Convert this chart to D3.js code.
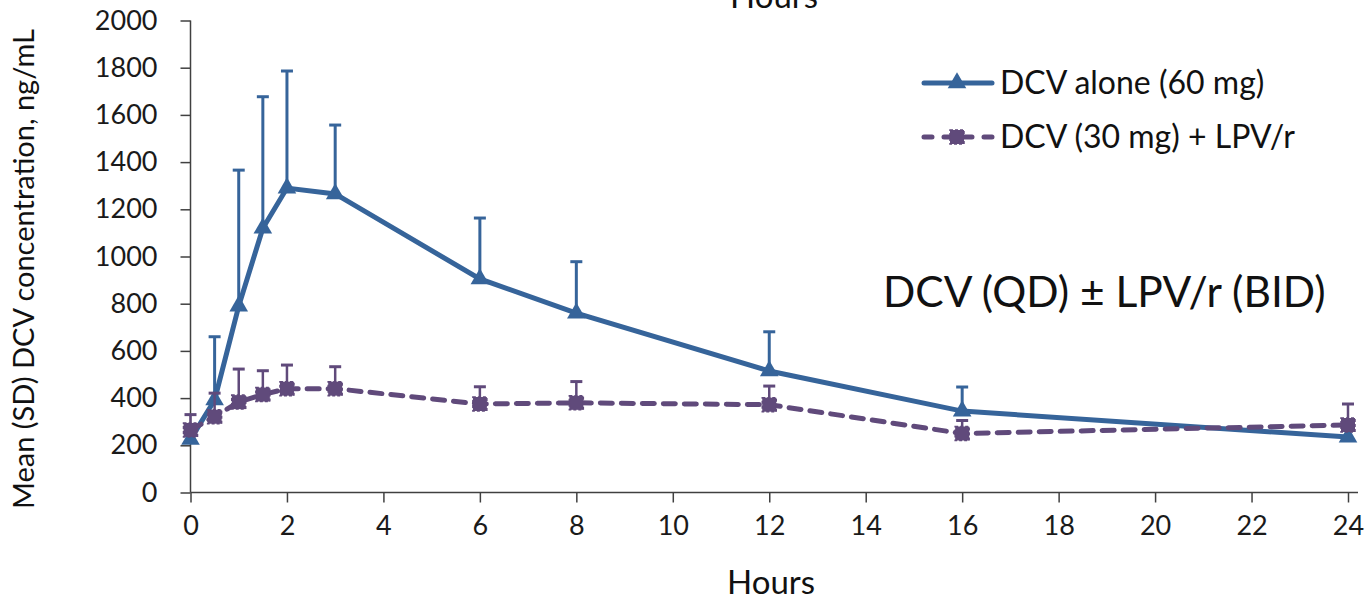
<!DOCTYPE html>
<html>
<head>
<meta charset="utf-8">
<script src="https://cdn.jsdelivr.net/npm/d3@7"></script>
<style>
  html, body { margin: 0; padding: 0; background: #fff; }
  svg { display: block; font-family: Lato, "Open Sans", sans-serif; }
</style>
</head>
<body>
<svg id="chart" width="1368" height="601"></svg>
<script>
// DCV concentration-time profile, mean with upward SD bars
const W = 1368;
const H = 601;

const hours = [0, 0.5, 1, 1.5, 2, 3, 6, 8, 12, 16, 24];
const dcvAlone = [225, 392, 790, 1120, 1290, 1265, 905, 760, 515, 345, 235];
const dcvAloneSD = [60, 268, 576, 557, 496, 292, 258, 218, 166, 102, 65];
const dcvLpv = [265, 321, 383, 415, 440, 440, 375, 380, 372, 250, 286];
const dcvLpvSD = [65, 100, 140, 101, 100, 93, 73, 90, 79, 55, 89];

const xTicks = d3.range(0, 25, 2);
const yTicks = d3.range(0, 2001, 200);

const BLUE = "#36649a";
const PURPLE = "#604a7b";
const AXIS = "#404040";

const series = [
  { name: "DCV alone (60 mg)", mean: dcvAlone, sd: dcvAloneSD, color: BLUE, dash: null, marker: "tri", barW: 3 },
  { name: "DCV (30 mg) + LPV/r", mean: dcvLpv, sd: dcvLpvSD, color: PURPLE, dash: "12,9", marker: "sq", barW: 2.5 },
];

const x = d3.scaleLinear().domain([0, 24]).range([190.5, 1348]);
const y = d3.scaleLinear().domain([0, 2000]).range([492.5, 20.5]);

const svg = d3.select("#chart");

// ---- axes ----
const gx = svg.append("g").attr("transform", `translate(0,${y(0)})`)
  .call(d3.axisBottom(x).tickValues(xTicks).tickSize(10).tickPadding(13));
const gy = svg.append("g").attr("transform", `translate(${x(0)},0)`)
  .call(d3.axisLeft(y).tickValues(yTicks).tickFormat(d3.format("d")).tickSize(10).tickPadding(23));
for (const g of [gx, gy]) {
  g.select(".domain").remove();
  g.selectAll(".tick line").attr("stroke", AXIS).attr("stroke-width", 1.5);
  g.selectAll(".tick text").attr("fill", "#1a1a1a").style("font-size", "27px")
    .style("font-family", "Lato, 'Open Sans', sans-serif");
}
gx.selectAll(".tick text").attr("dy", "0.71em");
svg.append("line").attr("x1", x(0)).attr("x2", 1358).attr("y1", y(0)).attr("y2", y(0))
  .attr("stroke", AXIS).attr("stroke-width", 1.5);
svg.append("line").attr("x1", x(0)).attr("x2", x(0)).attr("y1", y(2000)).attr("y2", y(0))
  .attr("stroke", AXIS).attr("stroke-width", 1.5);

// ---- titles ----
svg.append("text").attr("x", 771).attr("y", 594).attr("text-anchor", "middle")
  .style("font-size", "33px").attr("fill", "#111").text("Hours");
// duplicate title clipped at the top edge
svg.append("text").attr("x", 774).attr("y", 8).attr("text-anchor", "middle")
  .style("font-size", "33px").attr("fill", "#111").text("Hours");
svg.append("text").attr("transform", "translate(34,269) rotate(-90)").attr("text-anchor", "middle")
  .style("font-size", "29px").attr("fill", "#111").text("Mean (SD) DCV concentration, ng/mL");
svg.append("text").attr("x", 883).attr("y", 307)
  .style("font-size", "42.5px").attr("fill", "#111").text("DCV (QD) \u00b1 LPV/r (BID)");

// ---- markers ----
function drawMarker(g, kind, color, cx, cy) {
  if (kind === "tri") {
    g.append("path")
      .attr("d", d3.symbol(d3.symbolTriangle, 150)())
      .attr("transform", `translate(${cx},${cy})`)
      .attr("fill", color);
  } else {
    g.append("rect").attr("x", cx - 7).attr("y", cy - 7).attr("width", 14).attr("height", 14)
      .attr("fill", color).attr("stroke", color).attr("stroke-width", 1.5)
      .attr("stroke-dasharray", "3,2");
  }
}

// ---- series ----
const line = d3.line().x((d) => x(d.t)).y((d) => y(d.v));
for (const s of series) {
  const pts = hours.map((t, i) => ({ t, v: s.mean[i], sd: s.sd[i] }));
  const g = svg.append("g");
  // SD bars (upward only)
  g.selectAll("line.bar").data(pts).join("line").attr("class", "bar")
    .attr("x1", (d) => x(d.t)).attr("x2", (d) => x(d.t))
    .attr("y1", (d) => y(d.v)).attr("y2", (d) => y(d.v + d.sd))
    .attr("stroke", s.color).attr("stroke-width", s.barW);
  g.selectAll("line.cap").data(pts).join("line").attr("class", "cap")
    .attr("x1", (d) => x(d.t) - 6).attr("x2", (d) => x(d.t) + 6)
    .attr("y1", (d) => y(d.v + d.sd)).attr("y2", (d) => y(d.v + d.sd))
    .attr("stroke", s.color).attr("stroke-width", 3);
  g.append("path").datum(pts).attr("d", line)
    .attr("fill", "none").attr("stroke", s.color).attr("stroke-width", 5)
    .attr("stroke-linecap", s.dash ? "round" : "butt")
    .attr("stroke-dasharray", s.dash);
  for (const p of pts) drawMarker(g, s.marker, s.color, x(p.t), y(p.v));
}

// ---- legend ----
const legendY = [83, 137];
series.forEach((s, i) => {
  const g = svg.append("g");
  g.append("line").attr("x1", 924).attr("x2", 992).attr("y1", legendY[i]).attr("y2", legendY[i])
    .attr("stroke", s.color).attr("stroke-width", 5)
    .attr("stroke-linecap", "round").attr("stroke-dasharray", s.dash ? "8,12" : null);
  drawMarker(g, s.marker, s.color, 957, legendY[i]);
  g.append("text").attr("x", 1000).attr("y", legendY[i] + 11)
    .style("font-size", "32px").attr("fill", "#111").text(s.name);
});
</script>
</body>
</html>
